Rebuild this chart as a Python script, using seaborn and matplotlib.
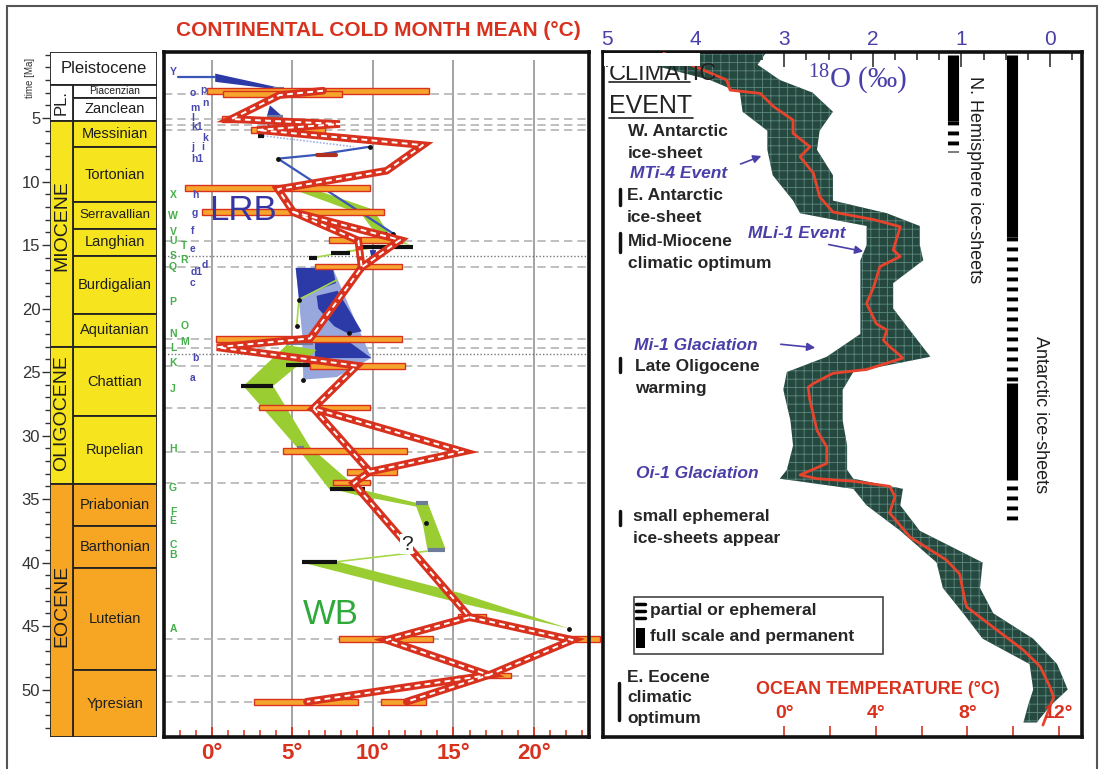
import matplotlib
matplotlib.use("Agg")
import matplotlib.pyplot as plt
from matplotlib.patches import Rectangle, FancyArrowPatch
from matplotlib.lines import Line2D
from matplotlib.ticker import MultipleLocator, FixedLocator
from matplotlib.transforms import blended_transform_factory
import seaborn as sns

sns.set_theme(style="white")
plt.rcParams["font.family"] = ["Liberation Sans", "DejaVu Sans"]
plt.rcParams["mathtext.default"] = "regular"
plt.rcParams["hatch.linewidth"] = 0.6

# ---------------- stratigraphy (Ma) ----------------
stage_names = ["Pleistocene", "Piacenzian", "Zanclean", "Messinian", "Tortonian",
               "Serravallian", "Langhian", "Burdigalian", "Aquitanian", "Chattian",
               "Rupelian", "Priabonian", "Barthonian", "Lutetian", "Ypresian"]
stage_top = [-0.2, 2.4, 3.4, 5.2, 7.3, 11.6, 13.7, 15.9, 20.4, 23.0, 28.5, 33.8, 37.1, 40.4, 48.5]
stage_base = stage_top[1:] + [53.74]
stage_colors = ["white", "white", "white"] + ["#f5e41e"] * 8 + ["#f6a623"] * 4
epoch_names = ["PL.", "MIOCENE", "OLIGOCENE", "EOCENE"]
epoch_top = [2.4, 5.2, 23.0, 33.8]
epoch_base = [5.2, 23.0, 33.8, 53.74]
epoch_label_age = [3.8, 13.5, 28.2, 43.4]
epoch_colors = ["white", "#f5e41e", "#f5e41e", "#f6a623"]

# ---------------- continental cold month mean (T degC vs age Ma) ----------------
bar_age = [2.85, 3.1, 5.1, 5.95, 10.5, 12.4, 14.6, 16.7, 22.4, 24.5, 27.8, 31.2,
           32.9, 33.7, 44.3, 46.0, 46.0, 48.9, 51.0, 51.0]
bar_lo = [-0.33, 0.7, 0.6, 2.4, -1.7, -0.6, 7.3, 6.4, 0.25, 6.1, 2.9, 4.4,
          8.4, 7.5, 15.3, 7.9, 21.7, 16.3, 2.6, 10.5]
bar_hi = [13.5, 8.1, 1.7, 7.0, 9.8, 10.7, 11.8, 11.8, 11.8, 12.0, 9.8, 12.1,
          11.5, 9.8, 17.0, 13.7, 24.1, 18.6, 9.1, 13.3]

red_main_T = [6.9, 4.2, 1.2, 7.95, 2.8, 13.1, 10.85, 4.1, 5.05, 11.68, 9.3, 6.1,
              0.3, 9.0, 6.3, 15.6, 9.8, 8.8, 16.0, 10.85, 17.2, 5.9]
red_main_age = [2.85, 3.19, 5.08, 5.47, 5.94, 7.13, 9.15, 10.6, 12.4, 14.6, 16.76, 22.35,
                23.05, 24.5, 27.86, 31.27, 32.85, 33.76, 44.3, 46.1, 48.86, 50.96]
red_b_T, red_b_age = [5.05, 9.09, 9.3], [12.4, 14.65, 16.76]
red_c_T, red_c_age = [6.3, 9.8], [27.86, 32.85]
red_d_T, red_d_age = [16.0, 22.4, 17.2, 12.1], [44.3, 46.1, 48.86, 50.96]

dash_ages = [3.1, 5.1, 5.55, 5.95, 14.7, 16.7, 22.4, 23.1, 24.5, 27.8, 31.3, 33.7, 46.0, 48.9, 51.0]
dot_ages = [15.9, 23.6]

# green (WB) and blue (LRB) ranges
green_polys = [
    ([5.0, 6.3, 10.0, 11.0, 12.3, 10.4, 9.3], [10.6, 10.6, 12.2, 14.1, 15.0, 14.5, 12.6]),
    ([4.64, 6.5, 3.8, 6.09, 9.19, 7.33, 5.26, 1.95], [22.87, 23.27, 26.1, 30.9, 34.3, 34.3, 30.9, 26.1]),
    ([7.5, 9.4, 12.7, 12.7, 9.0], [34.2, 34.3, 35.3, 35.6, 34.7]),
    ([12.6, 13.4, 14.5, 13.4, 13.1], [35.3, 35.3, 38.9, 39.1, 37.0]),
    ([5.6, 7.7, 15.4, 22.2, 14.8], [40.0, 39.9, 42.4, 45.2, 43.0]),
]
green_lines = [
    ([13.4, 7.74], [39.1, 39.94]),
    ([5.4, 5.26], [19.3, 21.4]),
    ([5.4, 7.74], [19.3, 17.76]),
    ([6.3, 9.8], [16.0, 15.2]),
    ([8.0, 10.5], [15.6, 15.1]),
]
light_blue_poly = ([5.2, 7.5, 9.9, 7.74, 5.67, 5.6, 5.3], [16.8, 16.8, 23.9, 25.4, 25.6, 22.0, 18.0])
dark_blue_polys = [
    ([5.2, 7.5, 7.7, 6.4, 5.4], [16.8, 16.8, 18.0, 18.6, 19.2]),
    ([6.5, 7.8, 9.3, 8.5, 7.6, 6.6], [19.0, 18.6, 21.8, 22.0, 21.4, 20.0]),
    ([6.4, 8.6, 9.9, 6.4], [22.7, 22.7, 23.9, 23.9]),
    ([0.2, 0.2, 4.0, 4.5], [1.5, 2.15, 2.75, 2.7]),
    ([3.6, 3.4, 4.4], [4.0, 4.9, 4.9]),
    ([9.8, 10.2, 10.0], [15.4, 15.4, 16.5]),
]
blue_lines = [
    ([-2.1, 0.2], [1.75, 1.75]),
    ([4.1, 6.5, 9.8], [8.2, 7.9, 7.26]),
    ([4.1, 11.26], [8.2, 14.1]),
    ([3.5, 3.7], [5.5, 6.0]),
]
blue_dotted = ([3.2, 8.8], [6.4, 7.26])
black_bars = [(1.8, 3.8, 26.1), (7.33, 9.5, 34.2), (5.57, 7.74, 39.94), (7.4, 8.6, 15.6),
              (6.0, 6.5, 16.0), (4.6, 6.1, 24.45), (9.1, 12.5, 15.13), (10.4, 10.9, 14.1),
              (2.85, 3.25, 6.4)]
grey_bars = [(12.7, 13.4, 35.3), (13.4, 14.5, 39.0), (5.3, 5.7, 31.0), (4.6, 6.3, 22.7),
             (3.8, 4.5, 2.7), (3.4, 4.4, 4.9)]
dots_T = [4.1, 9.8, 13.3, 22.2, 5.4, 5.26, 8.5, 5.67, 11.26]
dots_age = [8.2, 7.26, 36.9, 45.2, 19.3, 21.4, 21.95, 25.6, 14.1]

green_labels = ["X", "W", "V", "U", "T", "S", "R", "Q", "P", "O", "N", "M", "L", "K", "J",
                "H", "G", "F", "E", "C", "B", "A"]
green_ages = [11.06, 12.7, 13.95, 14.7, 15.1, 15.9, 16.2, 16.7, 19.45, 21.4, 22.0, 22.6,
              23.1, 24.3, 26.3, 31.06, 34.1, 36.0, 36.7, 38.6, 39.4, 45.2]
green_px = [173, 173, 173, 173, 184, 173, 184, 173, 173, 185, 173, 185, 173, 173, 173,
            173, 173, 173, 173, 173, 173, 173]
blue_labels = ["Y", "p", "o", "n", "m", "l", "k1", "k", "j", "i", "h1", "h", "g", "f", "e",
               "d", "d1", "c", "b", "a"]
blue_ages = [1.35, 2.8, 3.05, 3.8, 4.2, 5.0, 5.7, 6.6, 7.3, 7.3, 8.2, 11.06, 12.5, 13.9,
             15.3, 16.6, 17.1, 18.0, 23.9, 25.5]
blue_px = [173, 203, 193, 205, 195, 193, 197, 205, 193, 203, 197, 195, 195, 193, 193,
           205, 197, 193, 195, 193]

# ---------------- benthic d18O (permil) vs age ----------------
cloud_age = [-0.2, 0.8, 2.0, 3.0, 4.5, 6.0, 7.5, 9.5, 11.5, 12.5, 13.5, 15.0, 16.2, 18.0,
             20.0, 22.0, 23.8, 25.0, 26.4, 28.8, 30.8, 32.7, 33.4, 34.2, 35.5, 37.5,
             40.0, 42.0, 44.0, 46.0, 48.0, 50.0, 51.3, 52.6]
cloud_hi = [5.0, 4.5, 3.84, 3.50, 3.47, 3.19, 3.19, 3.13, 2.90, 2.82, 2.07, 2.07, 2.14,
            2.14, 2.14, 2.14, 2.52, 2.97, 3.01, 2.93, 2.90, 2.97, 3.05, 2.22, 2.07, 1.69,
            1.28, 1.21, 0.98, 0.76, 0.23, 0.19, 0.25, 0.30]
cloud_lo = [3.2, 3.3, 3.05, 2.68, 2.45, 2.60, 2.63, 2.45, 2.45, 1.84, 1.47, 1.47, 1.43,
            1.77, 1.77, 1.55, 1.35, 2.22, 2.34, 2.34, 2.29, 2.29, 2.22, 1.66, 1.69, 1.47,
            0.76, 0.79, 0.64, 0.19, -0.08, -0.20, 0.0, 0.15]
curve_age = [-0.1, 2.0, 2.8, 3.06, 4.1, 5.16, 6.2, 7.26, 8.05, 9.35, 11.2, 12.4, 13.0,
             13.56, 15.4, 15.9, 16.7, 18.3, 19.6, 21.2, 21.7, 22.5, 23.0, 23.9, 24.8,
             25.1, 25.9, 26.2, 27.2, 29.6, 30.9, 32.2, 33.1, 33.4, 33.6, 34.0, 34.8,
             36.1, 38.0, 39.8, 40.9, 43.0, 43.5, 45.1, 46.9, 48.2, 49.8, 50.6, 52.8]
curve_d18o = [4.36, 3.65, 3.61, 3.27, 3.12, 2.90, 2.90, 2.71, 2.82, 2.67, 2.60, 2.45,
              1.99, 1.69, 1.77, 1.69, 1.92, 1.99, 2.07, 1.96, 1.84, 1.88, 1.81, 1.66,
              2.07, 2.45, 2.67, 2.73, 2.71, 2.63, 2.52, 2.52, 2.82, 2.63, 2.22, 1.81,
              1.75, 1.81, 1.58, 1.17, 1.02, 0.96, 0.94, 0.64, 0.30, 0.11, 0.0, -0.04, 0.08]
temp_ticks = [0, 2, 4, 6, 8, 10, 12]
temp_labels = ["0°", "", "4°", "", "8°", "", "12°"]

# ice-sheet bars (d18O position, age top, age base, kind)
ice_bars = [(1.10, 0.0, 5.2, "full"), (1.10, 5.2, 7.7, "partial"),
            (0.43, 0.0, 14.4, "full"), (0.43, 14.4, 25.9, "partial"),
            (0.43, 25.9, 33.5, "full"), (0.43, 34.0, 36.9, "partial")]

RED = "#d8321f"
TXTBLUE = "#4a3fa8"
LETTER_GREEN = "#45b04a"
W, H = 1106, 769
AGE_LIM = (53.74, -0.2)


def d2t(d):
    return 11.61 - 3.869 * d


def t2d(t):
    return (11.61 - t) / 3.869


def fx(x):
    return x / W


def fy(y):
    return 1 - y / H


fig = plt.figure(figsize=(W / 100, H / 100), dpi=100)


def fig_axes(x0, y0, x1, y1):
    return fig.add_axes([fx(x0), fy(y1), (x1 - x0) / W, (y1 - y0) / H])


def ftext(x, y, s, **kw):
    return fig.text(fx(x), fy(y), s, **kw)


def fline(xs, ys, **kw):
    fig.add_artist(Line2D([fx(v) for v in xs], [fy(v) for v in ys],
                          transform=fig.transFigure, **kw))


# outer frame
fig.add_artist(Rectangle((fx(7), -0.02), (1097 - 7) / W, fy(6) + 0.02, transform=fig.transFigure,
                         fill=False, ec="#555555", lw=1.5))

# ================= stratigraphic column =================
ax_c = fig_axes(50, 52, 157, 737)
ax_c.set_xlim(0, 1)
ax_c.set_ylim(*AGE_LIM)
split = 23 / 107
for name, top, base, col in zip(stage_names, stage_top, stage_base, stage_colors):
    x0 = 0 if name == "Pleistocene" else split
    ax_c.add_patch(Rectangle((x0, top), 1 - x0, base - top, facecolor=col,
                             edgecolor="#222222", lw=1.3))
    fs = {"Pleistocene": 12, "Piacenzian": 7.5, "Serravallian": 9.6}.get(name, 10.5)
    ax_c.text((x0 + 1) / 2, (top + base) / 2, name, ha="center", va="center",
              fontsize=fs, color="#1e1e1e")
for name, top, base, lab, col in zip(epoch_names, epoch_top, epoch_base, epoch_label_age, epoch_colors):
    ax_c.add_patch(Rectangle((0, top), split, base - top, facecolor=col,
                             edgecolor="#222222", lw=1.3))
    ax_c.text(split / 2, lab, name, rotation=90, ha="center", va="center",
              fontsize=14 if name != "PL." else 12, color="#1e1e1e")
ax_c.yaxis.set_major_locator(FixedLocator([5, 10, 15, 20, 25, 30, 35, 40, 45, 50]))
ax_c.yaxis.set_minor_locator(MultipleLocator(1))
ax_c.tick_params(axis="y", which="major", left=True, direction="out", length=6, width=1,
                 color="#333333", labelsize=12, labelcolor="#333333", pad=1)
ax_c.tick_params(axis="y", which="minor", left=True, direction="out", length=3.5, width=1,
                 color="#333333")
ax_c.set_xticks([])
for s in ax_c.spines.values():
    s.set_visible(False)
ftext(30, 78, "time [Ma]", rotation=90, ha="center", va="center", fontsize=7, color="#333333")

# ================= continental cold month mean =================
ax_m = fig_axes(164, 52, 589, 737)
ax_m.set_xlim(-2.98, 23.42)
ax_m.set_ylim(*AGE_LIM)
ax_m.vlines([0, 5, 10, 15, 20], 53.74, 0.45, colors="#9c9c9c", lw=1.3, zorder=0)
for a in dash_ages:
    ax_m.axhline(a, color="#b4b4b4", lw=1.2, ls=(0, (5, 3)), zorder=0.5)
for a in dot_ages:
    ax_m.axhline(a, color="#777777", lw=1.0, ls=(0, (1, 1.5)), zorder=0.5)

ax_m.fill(*light_blue_poly, color="#98a8dc", lw=0, zorder=1)
for xs, ys in dark_blue_polys:
    ax_m.fill(xs, ys, color="#2c3aa8", lw=0, zorder=1.2)
for xs, ys in green_polys:
    ax_m.fill(xs, ys, color="#9acd32", lw=0, zorder=1.3)
for xs, ys in green_lines:
    ax_m.plot(xs, ys, color="#a6d84a", lw=1.2, zorder=1.4)
for xs, ys in blue_lines:
    ax_m.plot(xs, ys, color="#3a56b8", lw=1.6, zorder=1.4)
ax_m.plot(*blue_dotted, color="#9fb2e6", lw=1.2, ls=(0, (1, 1)), zorder=1.4)
for lo, hi, a in black_bars:
    ax_m.plot([lo, hi], [a, a], color="#111111", lw=3, solid_capstyle="butt", zorder=1.6)
for lo, hi, a in grey_bars:
    ax_m.plot([lo, hi], [a, a], color="#6d7d99", lw=3, solid_capstyle="butt", zorder=1.6)
ax_m.scatter(dots_T, dots_age, s=6, color="#111111", zorder=1.7)
ax_m.plot([6.5, 7.7], [7.9, 7.9], color="#b03020", lw=3, zorder=1.6)

ax_m.barh(bar_age, [h - l for l, h in zip(bar_lo, bar_hi)], left=bar_lo, height=0.45,
          color="#f6a52c", edgecolor=RED, lw=1.0, zorder=2, clip_on=False)

for xs, ys in [(red_main_T, red_main_age), (red_b_T, red_b_age), (red_c_T, red_c_age),
               (red_d_T, red_d_age)]:
    sns.lineplot(x=xs, y=ys, sort=False, estimator=None, ax=ax_m, color=RED, lw=5.5,
                 zorder=3, solid_joinstyle="miter")
    ax_m.plot(xs, ys, color="white", lw=1.4, ls=(0, (3, 2.2)), zorder=3.1)
ax_m.text(12.1, 38.55, "?", fontsize=15, ha="center", va="center", zorder=4,
          bbox=dict(facecolor="white", edgecolor="none", pad=0.5))

tr = blended_transform_factory(fig.transFigure, ax_m.transData)
for lab, a, x in zip(green_labels, green_ages, green_px):
    ax_m.text(fx(x), a, lab, transform=tr, color=LETTER_GREEN, fontsize=7.5,
              fontweight="bold", ha="center", va="center", zorder=5)
for lab, a, x in zip(blue_labels, blue_ages, blue_px):
    ax_m.text(fx(x), a, lab, transform=tr, color="#4848b0", fontsize=7.5,
              fontweight="bold", ha="center", va="center", zorder=5)
ftext(243, 210, "LRB", color="#3535a5", fontsize=25, ha="center", va="center")
ftext(331, 615, "WB", color="#2faa3a", fontsize=25, ha="center", va="center")

ax_m.set_xlabel("")
ax_m.set_ylabel("")
ax_m.set_yticks([])
ax_m.xaxis.set_minor_locator(MultipleLocator(1))
ax_m.set_xticks([0, 5, 10, 15, 20])
ax_m.set_xticklabels(["0°", "5°", "10°", "15°", "20°"])
ax_m.tick_params(axis="x", which="major", bottom=True, direction="in", length=7, width=1.3,
                 color=RED, labelcolor=RED, labelsize=16, pad=4)
ax_m.tick_params(axis="x", which="minor", bottom=True, direction="in", length=5, width=1.1,
                 color=RED)
for lab in ax_m.get_xticklabels():
    lab.set_fontweight("bold")
for s in ax_m.spines.values():
    s.set_color("#111111")
    s.set_linewidth(2.6)
ftext(378, 31, "CONTINENTAL COLD MONTH MEAN (°C)", color=RED, fontsize=15,
      fontweight="bold", ha="center", va="center")

# ================= ocean d18O / temperature =================
ax_r = fig_axes(603, 52, 1082, 737)
ax_r.set_xlim(5.045, -0.361)
ax_r.set_ylim(*AGE_LIM)
ax_r.fill_betweenx(cloud_age, cloud_hi, cloud_lo, facecolor="#26493f", edgecolor="#5d8880",
                   hatch="++", lw=0, zorder=2)
sns.lineplot(x=curve_d18o, y=curve_age, sort=False, estimator=None, ax=ax_r,
             color="#e8432d", lw=2, zorder=3)
for xpos, a0, a1, kind in ice_bars:
    if kind == "full":
        ax_r.plot([xpos, xpos], [a0, a1], color="black", lw=8, solid_capstyle="butt", zorder=2)
    else:
        ax_r.plot([xpos, xpos], [a0, a1], color="black", lw=8, ls=(0, (0.35, 0.55)), zorder=2)
ax_r.set_xlabel("")
ax_r.set_ylabel("")
ax_r.set_yticks([])
ax_r.xaxis.tick_top()
ax_r.set_xticks([5, 4, 3, 2, 1, 0])
ax_r.xaxis.set_minor_locator(MultipleLocator(0.25))
ax_r.tick_params(axis="x", which="major", top=True, bottom=False, direction="in", length=11,
                 width=1.1, color="#222222", labelcolor=TXTBLUE, labelsize=15, pad=2)
ax_r.tick_params(axis="x", which="minor", top=True, bottom=False, direction="in", length=6,
                 width=1.1, color="#222222")
for s in ax_r.spines.values():
    s.set_color("#111111")
    s.set_linewidth(2.6)

# ocean temperature scale: ticks on a secondary axis, labels above the cloud
sec = ax_r.secondary_xaxis("bottom", functions=(d2t, t2d))
sec.set_xticks(temp_ticks)
sec.set_xticklabels([])
sec.tick_params(axis="x", direction="in", length=8, width=1.2, color=RED)
sec.spines["bottom"].set_visible(False)
for t, lab in zip(temp_ticks, temp_labels):
    if lab:
        ax_r.text(t2d(t), 51.9, lab, ha="center", va="center", color=RED, fontsize=14,
                  fontweight="bold", zorder=6)

# header with its top hidden
ftext(609, 74, "CLIMATIC", fontsize=17, ha="left", va="center", color="#222222", zorder=1)
fig.add_artist(Rectangle((fx(604), fy(66)), (700 - 604) / W, (66 - 53) / H,
                         transform=fig.transFigure, facecolor="white", edgecolor="none", zorder=1.5))
fline([609, 690], [82, 82], color="#222222", lw=1.2)
ftext(609, 106, "EVENT", fontsize=18, ha="left", va="center", color="#222222")
fline([609, 693], [118, 118], color="#222222", lw=1.2)
ftext(808, 80, "$^{18}$O (‰)", fontsize=21, ha="left", va="center", color=TXTBLUE,
      family=["Liberation Serif", "DejaVu Serif"])

txt = dict(fontsize=12.5, ha="left", va="center", color="#262626", fontweight="bold")
ev = dict(fontsize=12.5, ha="left", va="center", color=TXTBLUE, fontweight="bold", style="italic")
ftext(628, 131, "W. Antarctic", **txt)
ftext(628, 154, "ice-sheet", **txt)
ftext(630, 173, "MTi-4 Event", **ev)
ftext(627, 196, "E. Antarctic", **txt)
ftext(627, 218, "ice-sheet", **txt)
ftext(628, 241, "Mid-Miocene", **txt)
ftext(628, 263, "climatic optimum", **txt)
ftext(748, 233, "MLi-1 Event", **ev)
ftext(634, 345, "Mi-1 Glaciation", **ev)
ftext(635, 367, "Late Oligocene", **txt)
ftext(635, 388, "warming", **txt)
ftext(636, 474, "Oi-1 Glaciation", **ev)
ftext(633, 516, "small ephemeral", **txt)
ftext(633, 538, "ice-sheets appear", **txt)
ftext(627, 677, "E. Eocene", **txt)
ftext(627, 697, "climatic", **txt)
ftext(627, 718, "optimum", **txt)
for x, y0, y1 in [(620, 189, 205), (620, 233, 252), (620, 358, 372), (620, 511, 525), (619, 683, 720)]:
    fline([x, x], [y0, y1], color="#111111", lw=2.5)
for (x0, y0), (x1, y1) in [((738, 165), (764, 155)), ((826, 244), (866, 252)),
                           ((778, 344), (818, 348))]:
    fig.add_artist(FancyArrowPatch((fx(x0), fy(y0)), (fx(x1), fy(y1)), transform=fig.transFigure,
                                   arrowstyle="-|>", mutation_scale=12, color=TXTBLUE, lw=1.2))
ftext(878, 690, "OCEAN TEMPERATURE (°C)", fontsize=13, ha="center", va="center",
      color=RED, fontweight="bold")
ftext(975, 180, "N. Hemisphere ice-sheets", fontsize=13, rotation=-90, ha="center",
      va="center", color="#1e1e1e")
ftext(1040, 415, "Antarctic ice-sheets", fontsize=13, rotation=-90, ha="center",
      va="center", color="#1e1e1e")

# legend box
fig.add_artist(Rectangle((fx(634), fy(654)), (883 - 634) / W, (654 - 597) / H,
                         transform=fig.transFigure, fill=False, ec="#444444", lw=1.2))
for y in [604, 611, 618]:
    fline([636, 645], [y, y], color="black", lw=2.5)
fig.add_artist(Rectangle((fx(636), fy(648)), 9 / W, 20 / H, transform=fig.transFigure,
                         facecolor="black", edgecolor="none"))
ftext(650, 611, "partial or ephemeral", fontsize=12.5, ha="left", va="center",
      color="#262626", fontweight="bold")
ftext(650, 637, "full scale and permanent", fontsize=12.5, ha="left", va="center",
      color="#262626", fontweight="bold")

fig.savefig("out.png", dpi=100)
